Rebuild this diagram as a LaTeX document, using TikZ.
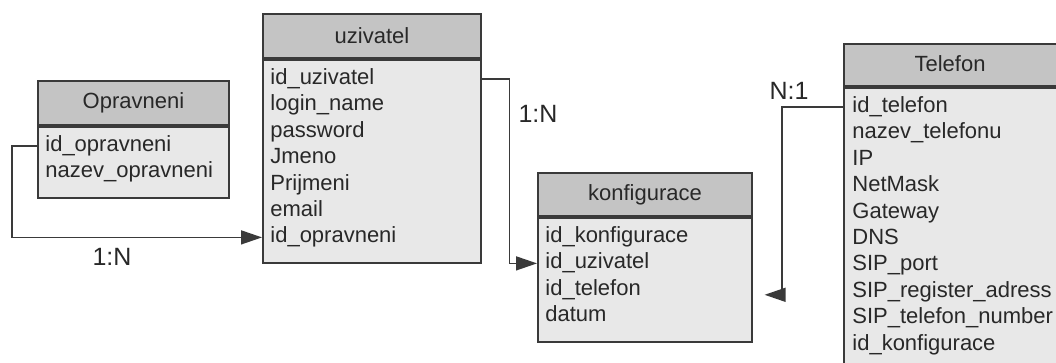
\documentclass[tikz,border=0pt]{standalone}
\usepackage{fontspec}
\setmainfont{Liberation Sans}
\usetikzlibrary{arrows.meta}

\definecolor{hdrgray}{RGB}{196,196,196}
\definecolor{bodygray}{RGB}{232,232,232}
\definecolor{edgegray}{RGB}{58,58,58}
\definecolor{txtgray}{RGB}{40,40,40}

\begin{document}
\begin{tikzpicture}[x=0.5pt,y=-0.5pt]
    \tikzstyle{tabhead} = [rectangle, draw=edgegray, line width=1pt, fill=hdrgray, anchor=north west, inner sep=0pt, text=txtgray, font=\fontsize{11}{13}\selectfont]
    \tikzstyle{tabbody} = [rectangle, draw=edgegray, line width=0.8pt, fill=bodygray, anchor=north west, inner sep=0pt]
    \tikzstyle{field} = [anchor=west, inner sep=0pt, text height=8pt, text depth=2.5pt, text=txtgray, font=\fontsize{11}{13}\selectfont]
    \tikzstyle{rel} = [draw=edgegray, line width=0.75pt, -{Triangle[length=10.5pt, width=7pt]}]
    \tikzstyle{card} = [inner sep=0pt, text=txtgray, font=\fontsize{11}{13}\selectfont]
    \tikzstyle{mult} = [inner sep=0pt, text=txtgray, font=\fontsize{12.5}{14}\selectfont]

    \useasboundingbox (0,0) rectangle (1056,363);
    \clip (0,0) rectangle (1056,363);

    % Opravneni
    \node[tabhead, minimum width=95.5pt, minimum height=22pt] (oph) at (37,80) {};
    \node[card] (opt) at (oph.center) {Opravneni};
    \node[tabbody, minimum width=95.5pt, minimum height=35.5pt] (opb) at (oph.south west) {};
    \node[field] (op1) at (45,146) {id\_opravneni};
    \node[field] (op2) at (45,172.4) {nazev\_opravneni};

    % uzivatel
    \node[tabhead, minimum width=109pt, minimum height=22pt] (uzh) at (262,13) {};
    \node[card] (uzt) at (uzh.center) {uzivatel};
    \node[tabbody, minimum width=109pt, minimum height=101.5pt] (uzb) at (uzh.south west) {};
    \node[field] (uz1) at (270,79) {id\_uzivatel};
    \node[field] (uz2) at (270,105.4) {login\_name};
    \node[field] (uz3) at (270,131.8) {password};
    \node[field] (uz4) at (270,158.2) {Jmeno};
    \node[field] (uz5) at (270,184.6) {Prijmeni};
    \node[field] (uz6) at (270,211) {email};
    \node[field] (uz7) at (270,237.4) {id\_opravneni};

    % konfigurace
    \node[tabhead, minimum width=107pt, minimum height=21.5pt] (kfh) at (537,172) {};
    \node[card] (kft) at (kfh.center) {konfigurace};
    \node[tabbody, minimum width=107pt, minimum height=62pt] (kfb) at (kfh.south west) {};
    \node[field] (kf1) at (545,237) {id\_konfigurace};
    \node[field] (kf2) at (545,263.4) {id\_uzivatel};
    \node[field] (kf3) at (545,289.8) {id\_telefon};
    \node[field] (kf4) at (545,316.2) {datum};

    % Telefon
    \node[tabhead, minimum width=110pt, minimum height=21pt] (telh) at (843,43) {};
    \node[card] (telt) at (950,64) {Telefon};
    \node[tabbody, minimum width=110pt, minimum height=150pt] (telb) at (telh.south west) {};
    \node[field] (tel1) at (852,107) {id\_telefon};
    \node[field] (tel2) at (852,133.4) {nazev\_telefonu};
    \node[field] (tel3) at (852,159.8) {IP};
    \node[field] (tel4) at (852,186.2) {NetMask};
    \node[field] (tel5) at (852,212.6) {Gateway};
    \node[field] (tel6) at (852,239) {DNS};
    \node[field] (tel7) at (852,265.4) {SIP\_port};
    \node[field] (tel8) at (852,291.8) {SIP\_register\_adress};
    \node[field] (tel9) at (852,318.2) {SIP\_telefon\_number};
    \node[field] (tel10) at (852,344.6) {id\_konfigurace};

    % Relations
    \coordinate[xshift=6pt, yshift=-2.5pt] (telend) at (kf3 -| kfb.east);

    \draw[rel] (op1 -| opb.west) -- ++(-25,0) |- (uz7 -| uzb.west);
    \draw[rel] (uz1 -| uzb.east) -- ++(28,0) |- (kf2 -| kfb.west);
    \draw[rel] (tel1 -| telb.west) -- ++(-61,0) |- (telend);

    \node[mult] (c1) at (112,257) {1:N};
    \node[mult] (c2) at (538,114) {1:N};
    \node[mult] (c3) at (789,91) {N:1};

\end{tikzpicture}
\end{document}
